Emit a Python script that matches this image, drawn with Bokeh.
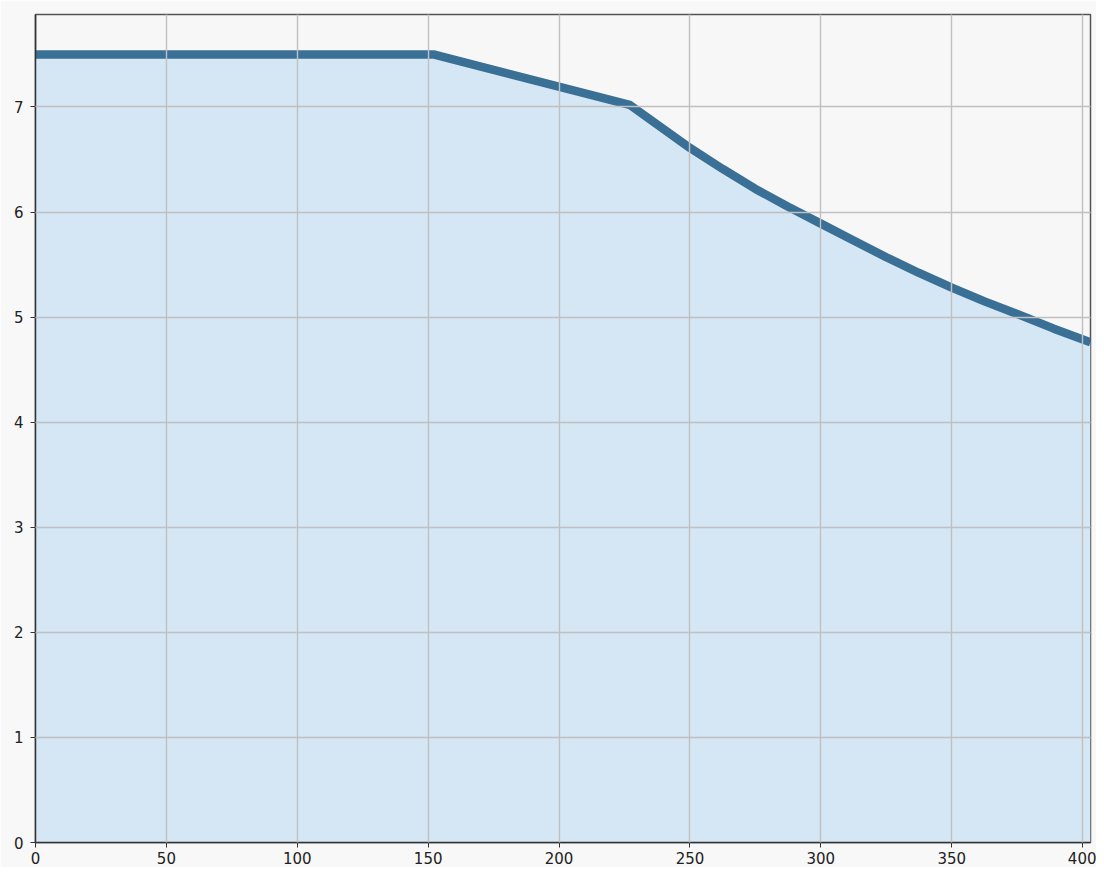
from bokeh.plotting import figure
from bokeh.models import Range1d, FixedTicker
from bokeh.embed import file_html
from bokeh.resources import INLINE

# data
x_vals = [0, 152, 227, 250, 262.5, 275, 287.5, 300, 312.5, 325, 337.5, 350, 362.5, 375, 389, 403]
y_vals = [7.5, 7.5, 7.02, 6.61, 6.41, 6.22, 6.05, 5.89, 5.73, 5.57, 5.42, 5.28, 5.15, 5.03, 4.89, 4.76]
x_ticks = [0, 50, 100, 150, 200, 250, 300, 350, 400]
y_ticks = [0, 1, 2, 3, 4, 5, 6, 7]

p = figure(width=1096, height=867, output_backend="svg", toolbar_location=None,
           x_range=Range1d(0, 403), y_range=Range1d(0, 7.88),
           min_border_left=35, min_border_right=6, min_border_top=14, min_border_bottom=25)

p.background_fill_color = "#f7f7f7"
p.border_fill_color = "#f8f8f8"
p.outline_line_color = "#555555"
p.outline_line_width = 1.5

p.varea(x=x_vals, y1=[0] * len(x_vals), y2=y_vals, fill_color="#d5e6f4", fill_alpha=1.0)
p.line(x_vals, y_vals, line_color="#3a7096", line_width=8.5, line_join="round")

p.xaxis.ticker = FixedTicker(ticks=x_ticks)
p.yaxis.ticker = FixedTicker(ticks=y_ticks)

for ax in (p.xaxis[0], p.yaxis[0]):
    ax.axis_line_color = "#333333"
    ax.axis_line_width = 1.5
    ax.major_tick_line_color = "#333333"
    ax.major_tick_out = 5
    ax.major_tick_in = 0
    ax.minor_tick_line_color = None
    ax.major_label_text_font = "DejaVu Sans"
    ax.major_label_text_font_size = "15px"
    ax.major_label_text_color = "#222222"
p.xaxis[0].major_label_standoff = 4
p.yaxis[0].major_label_standoff = 7

p.xgrid.grid_line_color = "#c0c0c0"
p.ygrid.grid_line_color = "#c0c0c0"
p.xgrid.grid_line_width = 1.4
p.ygrid.grid_line_width = 1.4
p.xgrid.level = "overlay"
p.ygrid.level = "overlay"

open("out.html", "w").write(file_html(p, INLINE))
